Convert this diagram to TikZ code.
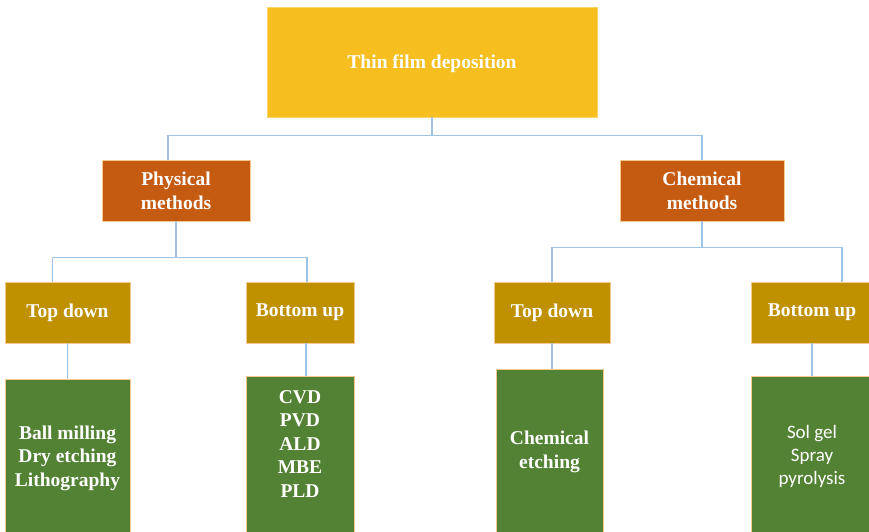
\documentclass[tikz,border=0pt]{standalone}
\usepackage{fontspec}
\setmainfont{Liberation Serif}
\newfontfamily\calibfont{Carlito}
\usetikzlibrary{calc}
\definecolor{rootfill}{HTML}{F7BE20}
\definecolor{rootedge}{HTML}{FAD36A}
\definecolor{methodfill}{HTML}{C55A11}
\definecolor{dirfill}{HTML}{BF9000}
\definecolor{leaffill}{HTML}{548235}
\definecolor{boxedge}{HTML}{F6C88E}
\definecolor{linkblue}{HTML}{9DC3E6}
\begin{document}
\begin{tikzpicture}[x=1pt,y=-1pt,
  basebox/.style={rectangle, inner sep=0pt, line width=0.8pt, text=white, align=center,
    font=\bfseries\fontsize{19.5}{24}\selectfont},
  rootbox/.style={basebox, fill=rootfill, draw=rootedge},
  methodbox/.style={basebox, fill=methodfill, draw=boxedge, minimum height=61pt},
  dirbox/.style={basebox, fill=dirfill, draw=boxedge, minimum height=61pt},
  leafbox/.style={basebox, fill=leaffill, draw=boxedge, anchor=north, minimum height=200pt},
  leaftext/.style={text=white, align=center, inner sep=0pt, font=\bfseries\fontsize{19.5}{23.5}\selectfont},
  link/.style={draw=linkblue, line width=1.6pt}]
\useasboundingbox (0,0) rectangle (869,532);
\clip (0,0) rectangle (869,532);

% root and method level
\node[rootbox, minimum width=330pt, minimum height=110pt] (root) at (432,62) {};
\node[basebox] (roottext) at (432,64) {Thin film deposition};
\node[methodbox, minimum width=148pt] (phys) at (176,190.5) {Physical\\methods};
\node[methodbox, minimum width=164pt] (chem) at (702,190.5) {Chemical\\methods};

% approach level
\node[dirbox, minimum width=125pt] (td1) at (67.5,312.5) {Top down};
\node[dirbox, minimum width=108pt] (bu1) at (300,312.5) {Bottom up};
\node[dirbox, minimum width=116pt] (td2) at (552,312.5) {Top down};
\node[dirbox, minimum width=122pt] (bu2) at (812,312.5) {Bottom up};

% technique boxes (running past the lower edge)
\node[leafbox, minimum width=125pt] (l1) at (67.5,379) {};
\node[leafbox, minimum width=108pt] (l2) at (300,376) {};
\node[leafbox, minimum width=107pt] (l3) at (549.5,369) {};
\node[leafbox, minimum width=122pt] (l4) at (812,376) {};

\node[leaftext] (t1) at (67.5,458) {Ball milling\\Dry etching\\Lithography};
\node[leaftext] (t2) at (300,444) {CVD\\PVD\\ALD\\MBE\\PLD};
\node[leaftext] (t3) at (549.5,452) {Chemical\\etching};
\node[leaftext, font=\calibfont\fontsize{19}{23}\selectfont] (t4) at (812,456) {Sol gel\\Spray\\pyrolysis};

% tree connectors
\coordinate (j0) at ($(root.south)+(0,18)$);
\draw[link] (root.south) -- (j0);
\draw[link] ($(phys.north)+(-8,0)$) |- (j0) -| (chem.north);

\coordinate (j1) at ($(phys.south)+(0,36)$);
\draw[link] (phys.south) -- (j1);
\draw[link] ($(td1.north)+(-15,0)$) |- (j1) -| ($(bu1.north)+(7,0)$);

\coordinate (j2) at ($(chem.south)+(0,26)$);
\draw[link] (chem.south) -- (j2);
\draw[link] (td2.north) |- (j2) -| ($(bu2.north)+(30,0)$);

\draw[link] (td1.south) -- (l1.north);
\draw[link] ($(bu1.south)+(6,0)$) -- ($(l2.north)+(6,0)$);
\draw[link] (td2.south) -- (td2.south |- l3.north);
\draw[link] (bu2.south) -- (l4.north);
\end{tikzpicture}
\end{document}
